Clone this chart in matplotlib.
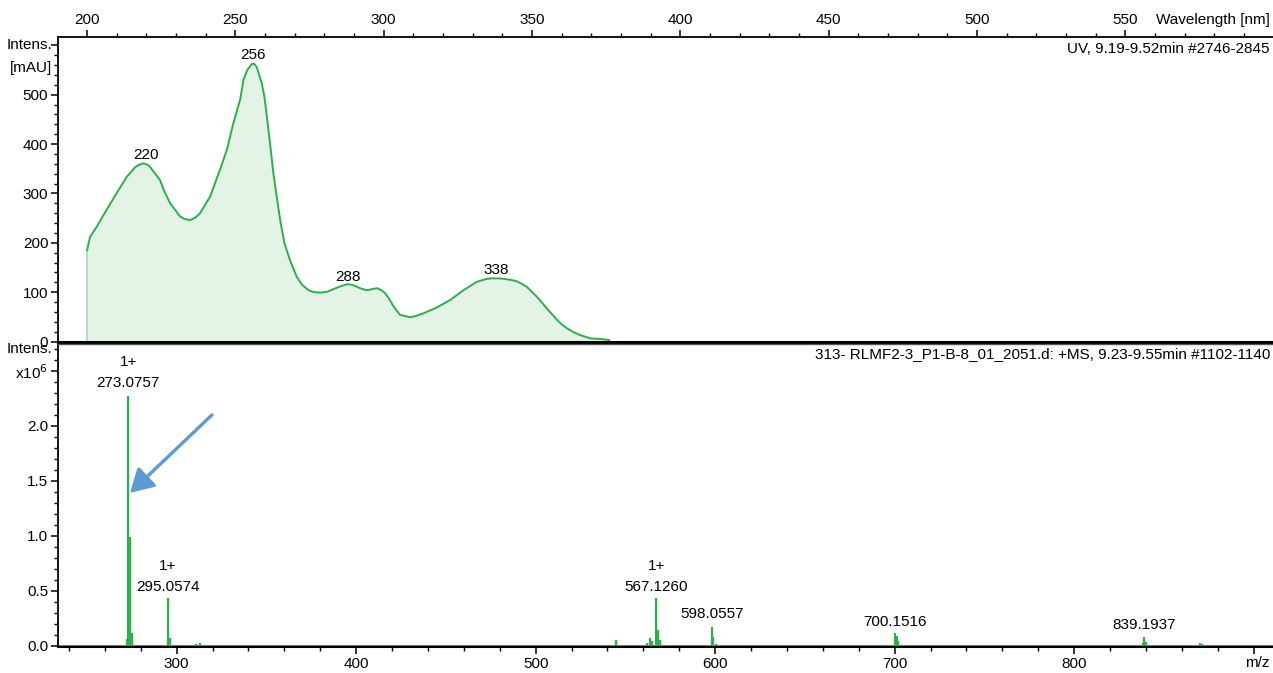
import matplotlib
matplotlib.use("Agg")
import matplotlib.pyplot as plt
from matplotlib.ticker import MultipleLocator, FixedLocator

plt.rcParams['font.family'] = ['Liberation Sans Narrow', 'Liberation Sans', 'DejaVu Sans']

# ---------------- data ----------------
uv_nm = [200, 201, 203.3, 206.6, 210, 213.4, 216.2, 217.5, 219, 220.5, 221.2, 224.6, 226,
         228, 231.4, 233, 234.7, 236.5, 238.1, 241.5, 244.8, 247.1, 249.3, 251.6, 252.7,
         254, 255.5, 256.3, 257.2, 258.9, 259.8, 260.6, 261.7, 262.8, 264, 265.1, 266.5,
         268.4, 270.7, 272.5, 274.6, 276.5, 278.6, 281, 283, 285.5, 287.6, 289.3, 290.9,
         292.5, 294.3, 296, 297.7, 299.2, 300.5, 302, 303.3, 305.5, 308.9, 311, 313.4,
         317.9, 322.4, 326.9, 331.4, 334.8, 336.5, 338.5, 340.4, 342.7, 344.9, 346.5,
         348.2, 351.6, 353.3, 355, 358.4, 360, 361.7, 364, 366.2, 369.6, 374.1, 376]
uv_mau = [185, 212, 233, 267, 301, 334, 353, 358, 361, 358, 354, 327, 305,
          280, 253, 248, 246, 251, 260, 294, 348, 388, 442, 490, 530,
          550, 562, 563, 556, 523, 495, 456, 400, 341, 290, 246, 200,
          165, 131, 115, 104, 100, 99, 101, 106, 112, 116, 115, 111,
          107, 104, 106, 108, 104, 98, 85, 71, 54, 49, 52, 57,
          69, 84, 104, 121, 127, 128, 128, 127, 125, 122, 117,
          111, 91, 79, 67, 44, 35, 27, 19, 13, 6.5, 4.5, 3]
uv_peak_labels = ["220", "256", "288", "338"]
uv_peak_nm = [220, 256, 288, 338]
uv_peak_val = [378, 581, 131, 145]

ms_mz = [272.07, 273.0757, 274.08, 275.08, 295.0574, 296.06, 311.0, 313.0, 427.5,
         544.7, 546.0, 556.0, 562.0, 563.8, 564.8, 567.1260, 568.13, 569.13,
         598.0557, 599.06, 600.5, 700.1516, 701.15, 702.15,
         838.2, 839.1937, 840.2, 870.0, 871.0]
ms_int = [0.06, 2.27, 0.99, 0.115, 0.43, 0.073, 0.015, 0.027, 0.01,
          0.052, 0.01, 0.01, 0.027, 0.07, 0.045, 0.43, 0.143, 0.05,
          0.167, 0.08, 0.015, 0.113, 0.088, 0.04,
          0.02, 0.082, 0.03, 0.027, 0.015]
ms_label_mz = [273.0757, 295.0574, 567.1260, 598.0557, 700.1516, 839.1937]
ms_label_txt = ["273.0757", "295.0574", "567.1260", "598.0557", "700.1516", "839.1937"]
ms_label_y = [2.39, 0.535, 0.535, 0.29, 0.215, 0.188]
ms_charge = ["1+", "1+", "1+", "", "", ""]

green = '#2BB04A'
fill_green = '#E3F4E7'
W, H = 1273, 673

fig = plt.figure(figsize=(W / 100, H / 100), dpi=100)

def frac(x0, y0, x1, y1):
    return [x0 / W, 1 - y1 / H, (x1 - x0) / W, (y1 - y0) / H]

fs = 11

# ---------------- UV panel ----------------
ax1 = fig.add_axes(frac(58, 37, 1273, 341.5))
ax1.fill_between(uv_nm, 0, uv_mau, color=fill_green, lw=0)
ax1.vlines(uv_nm[0], 0, uv_mau[0], color='#9FDCAF', lw=1.2)
ax1.plot(uv_nm, uv_mau, color=green, lw=1.4)
for t, x, y in zip(uv_peak_labels, uv_peak_nm, uv_peak_val):
    ax1.text(x, y, t, ha='center', va='center', fontsize=fs)
ax1.set_xlim(190.2, 599.8)
ax1.set_ylim(0, 617)
ax1.xaxis.set_ticks_position('top')
ax1.xaxis.set_label_position('top')
ax1.xaxis.set_major_locator(FixedLocator([200, 250, 300, 350, 400, 450, 500, 550, 600]))
ax1.set_xticklabels(['200', '250', '300', '350', '400', '450', '500', '550', ''])
ax1.xaxis.set_minor_locator(MultipleLocator(10))
ax1.yaxis.set_major_locator(FixedLocator([0, 100, 200, 300, 400, 500, 600]))
ax1.set_yticklabels(['0', '100', '200', '300', '400', '500', ''])
ax1.yaxis.set_minor_locator(MultipleLocator(20))
ax1.tick_params(which='major', length=5, width=1.1, labelsize=fs, pad=2)
ax1.tick_params(which='minor', length=3, width=1.0)
for s in ['right', 'bottom']:
    ax1.spines[s].set_visible(False)
ax1.spines['top'].set_linewidth(1.3)
ax1.spines['left'].set_linewidth(1.3)
ax1.text(-0.005, 600, 'Intens.', transform=ax1.get_yaxis_transform(), ha='right', va='center', fontsize=fs)
ax1.text(-0.005, 555, '[mAU]', transform=ax1.get_yaxis_transform(), ha='right', va='center', fontsize=fs)
ax1.text(0.9975, 1.055, 'Wavelength [nm]', transform=ax1.transAxes, ha='right', va='center', fontsize=fs)
ax1.text(0.9975, 0.96, 'UV, 9.19-9.52min #2746-2845', transform=ax1.transAxes, ha='right', va='center', fontsize=fs)

# separator line
fig.add_artist(plt.Line2D([58 / W, 1], [1 - 341.8 / H, 1 - 341.8 / H], color='black', lw=2.2))
fig.add_artist(plt.Line2D([58 / W, 1], [1 - 343.5 / H, 1 - 343.5 / H], color='#555555', lw=1.0))

# ---------------- MS panel ----------------
ax2 = fig.add_axes(frac(58, 343, 1273, 647))
ax2.axhline(0.0, color=green, lw=1.5)
ax2.vlines(ms_mz, 0, ms_int, color=green, lw=1.6)
for mz, t, y, c in zip(ms_label_mz, ms_label_txt, ms_label_y, ms_charge):
    ax2.text(mz, y, t, ha='center', va='center', fontsize=fs)
    if c:
        ax2.text(mz, y + 0.19, c, ha='center', va='center', fontsize=fs)
ax2.annotate('', xy=(274.0, 1.39), xytext=(319.7, 2.10),
             arrowprops=dict(arrowstyle='-|>,head_length=0.7,head_width=0.4',
                             color='#5B9BD5', lw=2.4, mutation_scale=20,
                             shrinkA=0, shrinkB=0))
ax2.set_xlim(233.9, 910.8)
ax2.set_ylim(-0.012, 2.754)
ax2.xaxis.set_major_locator(FixedLocator([300, 400, 500, 600, 700, 800, 900]))
ax2.set_xticklabels(['300', '400', '500', '600', '700', '800', ''])
ax2.xaxis.set_minor_locator(MultipleLocator(20))
ax2.yaxis.set_major_locator(FixedLocator([0, 0.5, 1.0, 1.5, 2.0, 2.5]))
ax2.set_yticklabels(['0.0', '0.5', '1.0', '1.5', '2.0', 'x10$^6$'])
ax2.yaxis.set_minor_locator(MultipleLocator(0.1))
ax2.tick_params(which='major', length=5, width=1.1, labelsize=fs, pad=2)
ax2.tick_params(which='minor', length=3, width=1.0)
for s in ['right', 'top']:
    ax2.spines[s].set_visible(False)
ax2.spines['bottom'].set_linewidth(1.5)
ax2.spines['left'].set_linewidth(1.3)
ax2.text(-0.005, 2.7, 'Intens.', transform=ax2.get_yaxis_transform(), ha='right', va='center', fontsize=fs)
ax2.text(0.9975, -0.052, 'm/z', transform=ax2.transAxes, ha='right', va='center', fontsize=fs)
ax2.text(0.9975, 0.965, '313- RLMF2-3_P1-B-8_01_2051.d: +MS, 9.23-9.55min #1102-1140',
         transform=ax2.transAxes, ha='right', va='center', fontsize=fs)

fig.savefig('out.png', dpi=100)
